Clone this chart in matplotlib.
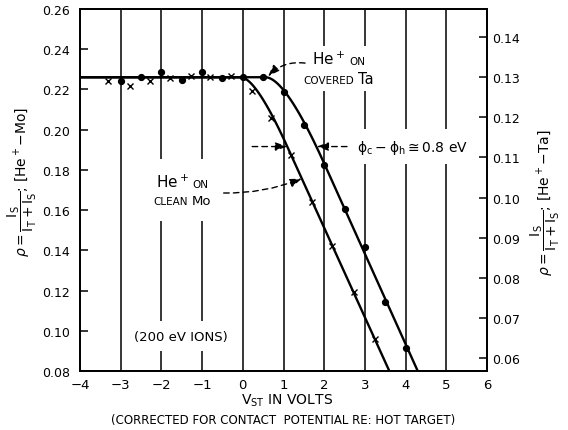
import numpy as np
import matplotlib
matplotlib.use("Agg")
import matplotlib.pyplot as plt
from matplotlib.offsetbox import TextArea, HPacker, VPacker, AnnotationBbox

# ---- measured scattering ratios ----
# He+ on clean Mo (left axis)
v_mo = [-3.30, -2.77, -2.28, -1.79, -1.27, -0.81, -0.29, 0.22, 0.69, 1.18, 1.70, 2.20, 2.74, 3.25]
rho_mo = [0.2244, 0.2216, 0.2244, 0.2256, 0.2269, 0.2263, 0.2266, 0.2194, 0.2057,
          0.1876, 0.1639, 0.1423, 0.1191, 0.0959]

# He+ on covered Ta (right axis)
v_ta = [-3.0, -2.5, -2.0, -1.5, -1.0, -0.5, 0.0, 0.5, 1.0, 1.5, 2.0, 2.5, 3.0, 3.5, 4.0]
rho_ta = [0.1291, 0.1300, 0.1312, 0.1292, 0.1312, 0.1299, 0.1300, 0.1300, 0.1264,
          0.1181, 0.1081, 0.0971, 0.0877, 0.0741, 0.0626]

# fitted curves: plateau level, retarding line (intercept, slope), knee span
mo_fit = dict(plateau=0.226, intercept=0.2402, slope=-0.0445, knee=(-0.05, 1.10))
ta_fit = dict(plateau=0.130, intercept=0.1535, slope=-0.0225, knee=(0.55, 2.00))

x_ticks = [-4, -3, -2, -1, 0, 1, 2, 3, 4, 5, 6]
left_ticks = [0.08, 0.10, 0.12, 0.14, 0.16, 0.18, 0.20, 0.22, 0.24, 0.26]
right_ticks = [0.06, 0.07, 0.08, 0.09, 0.10, 0.11, 0.12, 0.13, 0.14]
x_lim = (-4, 6)
left_lim = (0.08, 0.26)
right_lim = (0.0568, 0.1470)
delta_phi_rho = 0.1916   # level (left axis) of the work-function arrows


def line_v(fit, rho):
    return (rho - fit["intercept"]) / fit["slope"]


def knee_curve(fit, v_lo, v_hi, n=80):
    p, b, m = fit["plateau"], fit["intercept"], fit["slope"]
    k0, k1 = fit["knee"]
    vc = (p - b) / m
    t = np.linspace(0, 1, n)
    bx = (1 - t) ** 2 * k0 + 2 * t * (1 - t) * vc + t ** 2 * k1
    by = (1 - t) ** 2 * p + 2 * t * (1 - t) * p + t ** 2 * (b + m * k1)
    vx = np.concatenate([[v_lo], bx, [v_hi]])
    vy = np.concatenate([[p], by, [b + m * v_hi]])
    return vx, vy


def knee_value(fit, v):
    vx, vy = knee_curve(fit, -10, 10, n=400)
    return float(np.interp(v, vx, vy))


def to_right(rho_left):
    return right_lim[0] + (rho_left - left_lim[0]) * (right_lim[1] - right_lim[0]) / (left_lim[1] - left_lim[0])


plt.rcParams["font.family"] = "DejaVu Sans"

fig = plt.figure(figsize=(5.68, 4.31), dpi=100)
ax = fig.add_axes([80 / 568, 1 - 372 / 431, 407 / 568, 362 / 431])
ax2 = ax.twinx()

ax.set_xlim(*x_lim)
ax.set_ylim(*left_lim)
ax2.set_ylim(*right_lim)

for sp in list(ax.spines.values()) + list(ax2.spines.values()):
    sp.set_linewidth(1.3)

# vertical rulings
for v in x_ticks[1:-1]:
    ax.axvline(v, color="black", lw=1.1, zorder=1)

# fitted curves
vx, vy = knee_curve(mo_fit, x_lim[0], 4.0)
ax.plot(vx, vy, color="black", lw=1.7, zorder=4, solid_capstyle="butt")
vx, vy = knee_curve(ta_fit, x_lim[0], 4.8)
ax2.plot(vx, vy, color="black", lw=1.7, zorder=4, solid_capstyle="butt")

# data points
ax.plot(v_mo, rho_mo, ls="none", marker="x", ms=4.5, mew=1.0, color="black", zorder=5)
ax2.plot(v_ta, rho_ta, ls="none", marker="o", ms=4.2, color="black", zorder=5)

# ticks
ax.set_xticks(x_ticks)
ax.set_xticklabels([f"{v:d}".replace("-", "\u2212") for v in x_ticks])
ax.tick_params(axis="x", length=0, pad=5, labelsize=9.5)
ax.set_yticks(left_ticks)
ax.set_yticklabels([f"{t:.2f}" for t in left_ticks])
ax.tick_params(axis="y", direction="in", length=6, width=1.1, pad=7, labelsize=9)
ax2.set_yticks(right_ticks)
ax2.set_yticklabels([f"{t:.2f}" for t in right_ticks])
ax2.tick_params(axis="y", direction="in", length=6, width=1.1, pad=4, labelsize=9)


def label_box(target, lines, xy, white=True, pad=0.3):
    rows = []
    for pieces in lines:
        rows.append(HPacker(children=[TextArea(s, textprops=dict(fontsize=fs, color="black"))
                                      for s, fs in pieces],
                            align="baseline", pad=0, sep=3))
    box = VPacker(children=rows, align="center", pad=0, sep=3)
    ab = AnnotationBbox(box, xy, xycoords="data", frameon=white, box_alignment=(0.5, 0.5),
                        pad=pad, bboxprops=dict(facecolor="white", edgecolor="none"))
    ab.set_zorder(3)
    target.add_artist(ab)


label_box(ax, [[("He$^+$", 11), ("ON", 7.5)], [("COVERED", 7.5), ("Ta", 10.5)]], (2.36, 0.2306))
label_box(ax, [[("He$^+$", 11), ("ON", 7.5)], [("CLEAN", 7.5), ("Mo", 9.5)]], (-1.49, 0.1700), pad=1.0)

ax.text(2.81, delta_phi_rho, r"$\mathregular{\phi_c-\phi_h\cong}$0.8 eV", fontsize=10, ha="left",
        va="center", zorder=3, bbox=dict(facecolor="white", edgecolor="none", pad=6))
ax.text(-1.52, 0.0973, "(200 eV IONS)", fontsize=9.5, ha="center", va="center", zorder=3,
        bbox=dict(facecolor="white", edgecolor="none", pad=6))

arrow_kw = dict(arrowstyle="-|>,head_length=0.7,head_width=0.25", lw=1.0, ls=(0, (4, 3)),
                color="black", shrinkA=0, shrinkB=0)

# arrow to the knee of the Ta curve
ax2.annotate("", xy=(0.62, knee_value(ta_fit, 0.62) + 0.0003), xytext=(1.53, to_right(0.2331)),
             arrowprops=dict(connectionstyle="arc3,rad=0.25", **arrow_kw), zorder=6)
# arrow to the Mo line
ax.annotate("", xy=(1.45, mo_fit["intercept"] + mo_fit["slope"] * 1.45), xytext=(-0.47, 0.1685),
            arrowprops=dict(connectionstyle="arc3,rad=0.1", **arrow_kw), zorder=6)
# work-function difference arrows
rho_r = to_right(delta_phi_rho)
ax2.annotate("", xy=(line_v(ta_fit, rho_r), rho_r), xytext=(2.56, rho_r),
             arrowprops=dict(connectionstyle="arc3,rad=0", **arrow_kw), zorder=6)
ax.annotate("", xy=(line_v(mo_fit, delta_phi_rho), delta_phi_rho), xytext=(0.23, delta_phi_rho),
            arrowprops=dict(connectionstyle="arc3,rad=0", **arrow_kw), zorder=6)

# axis titles
fig.text(287 / 568, 1 - 401 / 431, r"V$_{\mathrm{ST}}$ IN VOLTS", ha="center", va="center", fontsize=10)
fig.text(283 / 568, 1 - 421 / 431, "(CORRECTED FOR CONTACT  POTENTIAL RE: HOT TARGET)",
         ha="center", va="center", fontsize=8.5)
fig.text(22 / 568, 1 - 182 / 431,
         r"$\rho=\dfrac{\mathrm{I_S}}{\mathrm{I_T+I_S}}$; [He$^+$$-$Mo]",
         rotation=90, ha="center", va="center", fontsize=10)
fig.text(545 / 568, 1 - 203 / 431,
         r"$\rho=\dfrac{\mathrm{I_S}}{\mathrm{I_T+I_S}}$; [He$^+$$-$Ta]",
         rotation=90, ha="center", va="center", fontsize=10)

fig.savefig("out.png", dpi=100, facecolor="white")
